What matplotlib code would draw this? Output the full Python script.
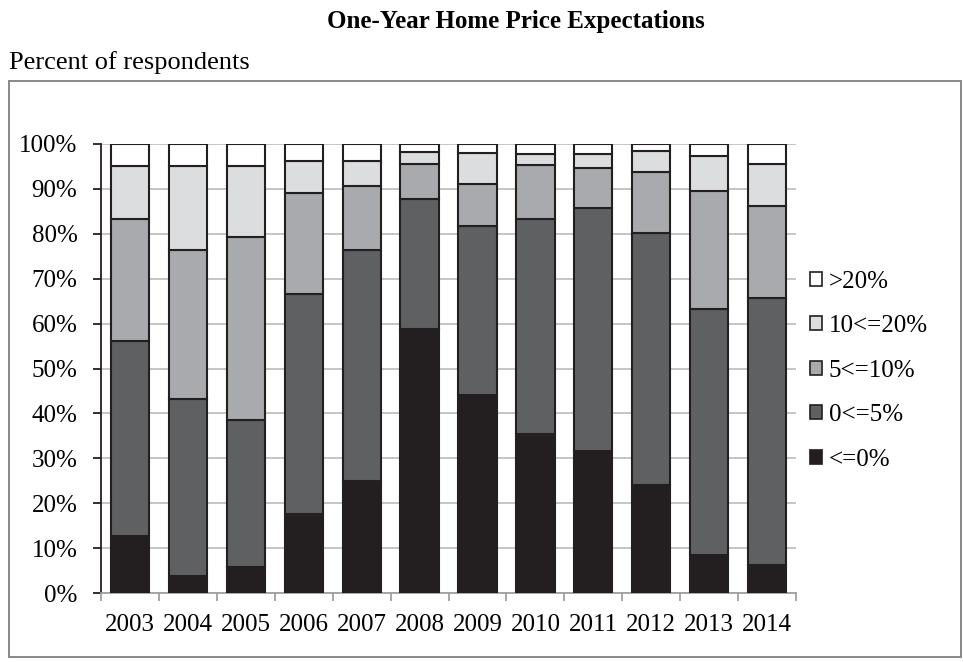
import numpy as np
import matplotlib
matplotlib.use("Agg")
import matplotlib.pyplot as plt
from matplotlib.patches import Rectangle, Patch

plt.rcParams['font.family'] = ['Liberation Serif', 'DejaVu Serif']

years = ["2003", "2004", "2005", "2006", "2007", "2008",
         "2009", "2010", "2011", "2012", "2013", "2014"]

# shares of respondents (percent)
le0 = [12.6, 3.7, 5.9, 17.5, 25.0, 58.8, 44.2, 35.4, 31.6, 24.1, 8.5, 6.3]
p0_5 = [43.5, 39.4, 32.7, 49.2, 51.5, 28.9, 37.6, 47.8, 54.2, 56.0, 54.7, 59.5]
p5_10 = [27.1, 33.4, 40.6, 22.3, 14.2, 7.9, 9.4, 12.1, 8.9, 13.7, 26.3, 20.5]
p10_20 = [12.0, 18.7, 16.0, 7.1, 5.4, 2.7, 6.7, 2.5, 3.1, 4.6, 7.9, 9.3]
gt20 = [4.8, 4.8, 4.8, 3.9, 3.9, 1.7, 2.1, 2.2, 2.2, 1.6, 2.6, 4.4]

series = [
    ("<=0%", le0, "#231f20"),
    ("0<=5%", p0_5, "#5f6062"),
    ("5<=10%", p5_10, "#a9aaad"),
    ("10<=20%", p10_20, "#dcdddf"),
    (">20%", gt20, "#ffffff"),
]

fig = plt.figure(figsize=(9.63, 6.62), dpi=100)
ax = fig.add_axes([0.1049, 0.1042, 0.7217, 0.6783])

x = np.arange(len(years))
bottom = np.zeros(len(years))
handles = []
for label, vals, color in series:
    vals = np.array(vals)
    ax.bar(x, vals, 0.66, bottom=bottom, color=color,
           edgecolor="#231f20", linewidth=1.5, zorder=3)
    bottom = bottom + vals
    handles.append(Patch(facecolor=color, edgecolor="#231f20",
                         linewidth=1.2, label=label))

ax.set_xlim(-0.5, len(years) - 0.5)
ax.set_ylim(0, 100)
ax.set_yticks(np.arange(0, 101, 10))
ax.set_yticklabels([f"{v}%" for v in range(0, 101, 10)])
ax.yaxis.grid(True, color="#c0c0c0", linewidth=1.3, zorder=0)
ax.set_axisbelow(True)

ax.set_xticks(x)
ax.set_xticklabels(years)
ax.set_xticks(np.arange(-0.5, len(years), 1), minor=True)
ax.tick_params(axis="x", which="major", length=0, pad=15, labelsize=18)
ax.tick_params(axis="x", which="minor", length=6, width=1.3, color="#a0a0a0")
ax.tick_params(axis="y", length=6, width=1.3, color="#231f20", labelsize=18, pad=11)

for s in ["top", "right"]:
    ax.spines[s].set_visible(False)
ax.spines["left"].set_color("#231f20")
ax.spines["left"].set_linewidth(1.3)
ax.spines["bottom"].set_color("#a0a0a0")
ax.spines["bottom"].set_linewidth(1.3)

fig.legend(handles=handles[::-1], loc="center left",
           bbox_to_anchor=(0.841, 0.44), frameon=False, fontsize=18,
           handlelength=0.5, handleheight=0.5, handletextpad=0.25,
           labelspacing=0.9, borderpad=0, borderaxespad=0)

# outer frame around the chart area
fig.patches.append(Rectangle((9 / 963, 5 / 662), 952 / 963, 576 / 662,
                             transform=fig.transFigure, fill=False,
                             edgecolor="#808080", linewidth=1.3))

fig.text(0.536, 0.967, "One-Year Home Price Expectations", ha="center",
         va="center", fontsize=18, fontweight="bold")
fig.text(0.009, 0.906, "Percent of respondents", ha="left", va="center",
         fontsize=19)

fig.savefig("out.png", dpi=100)
